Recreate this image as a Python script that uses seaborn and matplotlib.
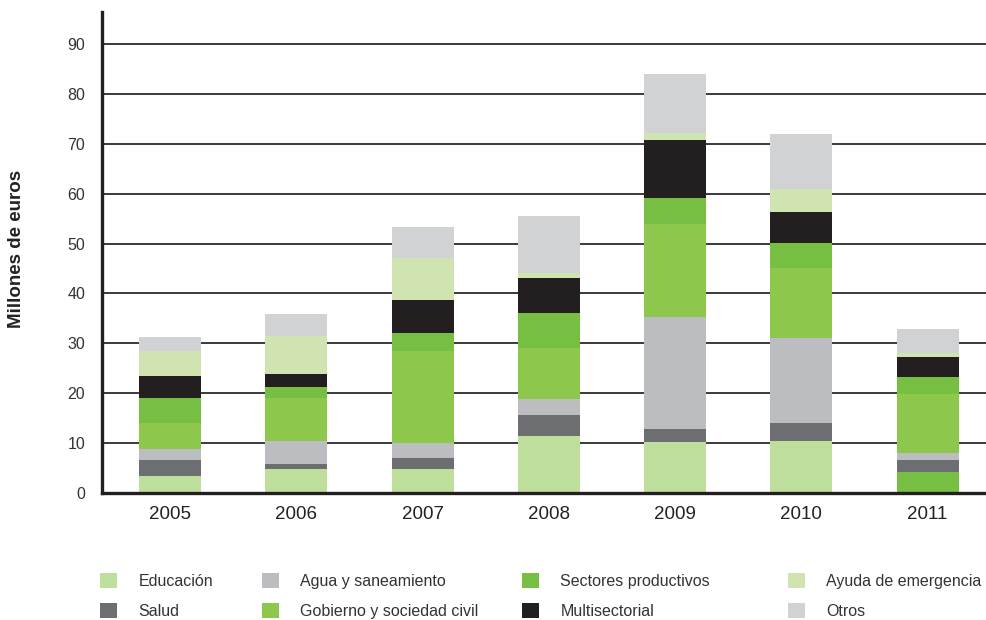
import numpy as np
import pandas as pd
import matplotlib
matplotlib.use("Agg")
import matplotlib.pyplot as plt
from matplotlib.patches import Patch
import seaborn as sns

# ==================== Data (millones de euros) ====================
years = ['2005', '2006', '2007', '2008', '2009', '2010', '2011']
educacion = [3.4, 4.8, 4.8, 11.4, 10.2, 10.4, 4.2]
salud = [3.2, 1.0, 2.2, 4.2, 2.6, 3.6, 2.4]
agua = [2.2, 4.6, 3.0, 3.2, 22.4, 17.0, 1.4]
gobierno = [5.2, 8.6, 18.4, 10.2, 18.8, 14.0, 11.8]
sectores = [5.0, 2.2, 3.6, 7.0, 5.2, 5.2, 3.4]
multisectorial = [4.4, 2.6, 6.6, 7.0, 11.6, 6.2, 4.0]
ayuda = [5.0, 7.6, 8.6, 1.1, 1.4, 4.6, 0.8]
otros = [2.8, 4.4, 6.2, 11.5, 11.8, 11.0, 4.8]

labels = ['Educación', 'Salud', 'Agua y saneamiento', 'Gobierno y sociedad civil',
          'Sectores productivos', 'Multisectorial', 'Ayuda de emergencia', 'Otros']
series = [educacion, salud, agua, gobierno, sectores, multisectorial, ayuda, otros]
colors = ['#bedf9b', '#6d6e71', '#bcbdc0', '#8dc74c',
          '#76bf43', '#231f20', '#cfe4b1', '#d1d2d4']

df = pd.DataFrame({lab: vals for lab, vals in zip(labels, series)}, index=years)
tops = df.cumsum(axis=1)

# ==================== Plot ====================
sns.set_theme(style='white')
plt.rcParams['font.family'] = ['Liberation Sans', 'DejaVu Sans']
DARK = '#231f20'

fig = plt.figure(figsize=(9.87, 6.2), dpi=100)
ax = fig.add_axes([0.1033, 0.2048, 0.8967, 0.7758])

# draw cumulative heights from the top layer down so each layer covers the rest
for lab, col in zip(labels[::-1], colors[::-1]):
    layer = pd.DataFrame({'year': years, 'top': tops[lab].values})
    sns.barplot(data=layer, x='year', y='top', order=years, color=col,
                saturation=1, width=0.49, errorbar=None, linewidth=0, ax=ax)

# in the source the 2011 education block is printed in the productive-sectors green
ax.patches[-1].set_facecolor(colors[4])

ax.set_xlim(-0.54, 6.47)
ax.set_ylim(0, 96.4)
ax.set_yticks(np.arange(0, 91, 10))
ax.set_xticks([i + 0.5 for i in range(6)], minor=True)
ax.set_xlabel('')
ax.set_ylabel('')

ax.set_axisbelow(True)
ax.yaxis.grid(True, color='#2b2b2b', linewidth=1.3)
ax.xaxis.grid(False)

for side in ['top', 'right']:
    ax.spines[side].set_visible(False)
for side in ['left', 'bottom']:
    ax.spines[side].set_color(DARK)
    ax.spines[side].set_linewidth(2.4)

ax.tick_params(axis='y', length=0, pad=12, labelsize=11.5, labelcolor='#333333')
ax.tick_params(axis='x', which='major', length=0, pad=9, labelsize=13.5, labelcolor='#222222')
ax.tick_params(axis='x', which='minor', direction='in', length=9.5, width=2.2, color=DARK)

fig.text(17 / 987, 0.598, 'Millones de euros', rotation=90, ha='center', va='center',
         fontsize=13.5, fontweight='bold', color='#222222')

# legend: four columns placed at fixed positions
col_x = [100, 262, 522, 788]
for c, x0 in enumerate(col_x):
    handles = [Patch(facecolor=colors[2 * c + k], edgecolor='none') for k in range(2)]
    fig.legend(handles, labels[2 * c:2 * c + 2], loc='upper left',
               bbox_to_anchor=(x0 / 987, 1 - 573 / 620), frameon=False,
               fontsize=11.5, handlelength=1.05, handleheight=1.05,
               handletextpad=1.35, labelspacing=0.9, borderpad=0,
               borderaxespad=0, labelcolor='#333333')

fig.savefig('out.png', dpi=100)
plt.close(fig)
